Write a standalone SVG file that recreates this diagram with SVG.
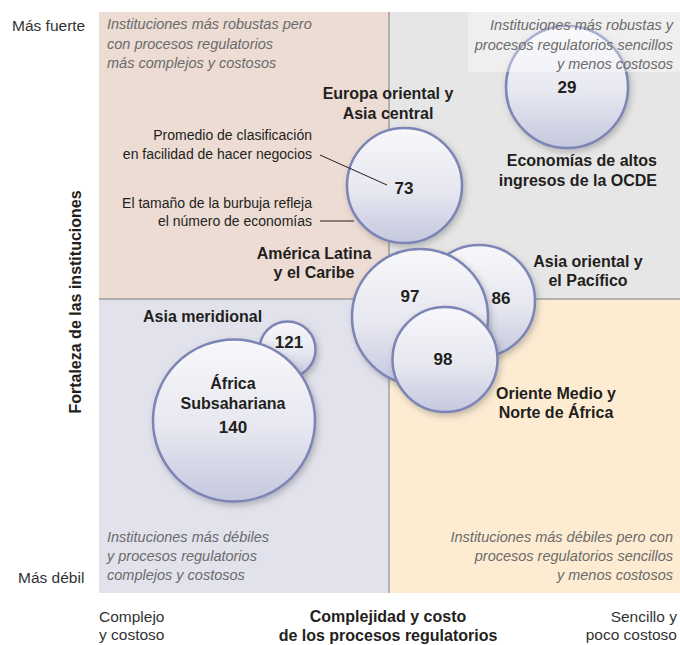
<svg xmlns="http://www.w3.org/2000/svg" width="680" height="645" viewBox="0 0 680 645">
<defs>
<linearGradient id="bub" x1="0" y1="0" x2="0" y2="1">
<stop offset="0" stop-color="#f8f8fb"/>
<stop offset="0.55" stop-color="#e6e7f0"/>
<stop offset="1" stop-color="#c5c8de"/>
</linearGradient>
<filter id="sh" x="-20%" y="-20%" width="150%" height="150%">
<feDropShadow dx="2" dy="3" stdDeviation="3" flood-color="#555" flood-opacity="0.35"/>
</filter>
<style>
.b{fill:url(#bub);stroke:#7b85b5;stroke-width:2.5;filter:url(#sh)}
.q{font-family:"Liberation Sans",Arial,sans-serif;font-style:italic;font-size:14.5px;fill:#6b6b6b}
.ax{font-family:"Liberation Sans",Arial,sans-serif;font-size:15.5px;fill:#333}
.lb{font-family:"Liberation Sans",Arial,sans-serif;font-weight:bold;font-size:16px;fill:#231f20}
.n{font-family:"Liberation Sans",Arial,sans-serif;font-weight:bold;font-size:17px;fill:#231f20;text-anchor:middle}
.an{font-family:"Liberation Sans",Arial,sans-serif;font-size:14px;fill:#231f20;text-anchor:end}
.ld{stroke:#231f20;stroke-width:1;fill:none}
</style>
</defs>

<!-- quadrants -->
<rect x="99" y="12" width="290" height="287" fill="#ecdcd4"/>
<rect x="389" y="12" width="291" height="287" fill="#e6e6e6"/>
<rect x="99" y="299" width="290" height="294" fill="#e1e2ec"/>
<rect x="389" y="299" width="291" height="294" fill="#fdecd2"/>
<line x1="389" y1="12" x2="389" y2="593" stroke="#7a7a7a" stroke-width="1"/>
<line x1="99" y1="299" x2="680" y2="299" stroke="#7a7a7a" stroke-width="1"/>

<!-- axis labels -->
<text class="ax" x="12" y="31">Más fuerte</text>
<text class="ax" x="18" y="583">Más débil</text>
<text class="lb" transform="translate(81,302) rotate(-90)" text-anchor="middle">Fortaleza de las instituciones</text>
<text class="ax" x="99" y="622">Complejo</text>
<text class="ax" x="99" y="640">y costoso</text>
<text class="lb" x="388" y="622" text-anchor="middle">Complejidad y costo</text>
<text class="lb" x="388" y="641" text-anchor="middle">de los procesos regulatorios</text>
<text class="ax" x="677" y="622" text-anchor="end">Sencillo y</text>
<text class="ax" x="677" y="640" text-anchor="end">poco costoso</text>

<!-- quadrant captions -->
<text class="q" x="107" y="29">Instituciones más robustas pero</text>
<text class="q" x="107" y="49">con procesos regulatorios</text>
<text class="q" x="107" y="68">más complejos y costosos</text>
<text class="q" x="107" y="542">Instituciones más débiles</text>
<text class="q" x="107" y="561">y procesos regulatorios</text>
<text class="q" x="107" y="580">complejos y costosos</text>
<text class="q" x="673" y="542" text-anchor="end">Instituciones más débiles pero con</text>
<text class="q" x="673" y="561" text-anchor="end">procesos regulatorios sencillos</text>
<text class="q" x="673" y="580" text-anchor="end">y menos costosos</text>

<!-- nodes -->
<g id="oecd">
<circle class="b" cx="567" cy="87" r="61"/>
<text class="n" x="567" y="93">29</text>
<text class="lb" x="657" y="166" text-anchor="end">Economías de altos</text>
<text class="lb" x="657" y="186" text-anchor="end">ingresos de la OCDE</text>
</g>
<g id="tr-caption">
<rect x="468" y="12" width="212" height="60" fill="#ffffff" fill-opacity="0.35"/>
<text class="q" x="673" y="30" text-anchor="end">Instituciones más robustas y</text>
<text class="q" x="673" y="50" text-anchor="end">procesos regulatorios sencillos</text>
<text class="q" x="673" y="69" text-anchor="end">y menos costosos</text>
</g>
<g id="europa">
<circle class="b" cx="404.5" cy="185.5" r="57.5"/>
<text class="n" x="404" y="194">73</text>
<text class="lb" x="388" y="99" text-anchor="middle">Europa oriental y</text>
<text class="lb" x="388" y="119" text-anchor="middle">Asia central</text>
</g>
<g id="legend">
<text class="an" x="312" y="140">Promedio de clasificación</text>
<text class="an" x="312" y="159">en facilidad de hacer negocios</text>
<text class="an" x="312" y="208">El tamaño de la burbuja refleja</text>
<text class="an" x="312" y="226">el número de economías</text>
</g>
<g id="asia-oriental">
<circle class="b" cx="479" cy="301" r="56"/>
<text class="n" x="501" y="304">86</text>
<text class="lb" x="588" y="267" text-anchor="middle">Asia oriental y</text>
<text class="lb" x="588" y="286" text-anchor="middle">el Pacífico</text>
</g>
<g id="america-latina">
<circle class="b" cx="420" cy="317" r="68"/>
<text class="n" x="410" y="302">97</text>
<text class="lb" x="314" y="259" text-anchor="middle">América Latina</text>
<text class="lb" x="314" y="278" text-anchor="middle">y el Caribe</text>
</g>
<g id="oriente-medio">
<circle class="b" cx="445" cy="359.5" r="52.5"/>
<text class="n" x="443" y="365">98</text>
<text class="lb" x="556" y="399" text-anchor="middle">Oriente Medio y</text>
<text class="lb" x="556" y="418" text-anchor="middle">Norte de África</text>
</g>
<g id="asia-meridional">
<circle class="b" cx="287.5" cy="349.5" r="28"/>
<text class="n" x="289" y="348">121</text>
<text class="lb" x="143" y="322">Asia meridional</text>
</g>
<g id="africa">
<circle class="b" cx="234" cy="420.5" r="81"/>
<text class="lb" x="233" y="389" text-anchor="middle">África</text>
<text class="lb" x="233" y="409" text-anchor="middle">Subsahariana</text>
<text class="n" x="233" y="433">140</text>
</g>

<!-- connectors -->
<g id="connectors">
<line class="ld" x1="320" y1="155" x2="387" y2="185"/>
<line class="ld" x1="320" y1="221" x2="354" y2="221"/>
</g>
</svg>
